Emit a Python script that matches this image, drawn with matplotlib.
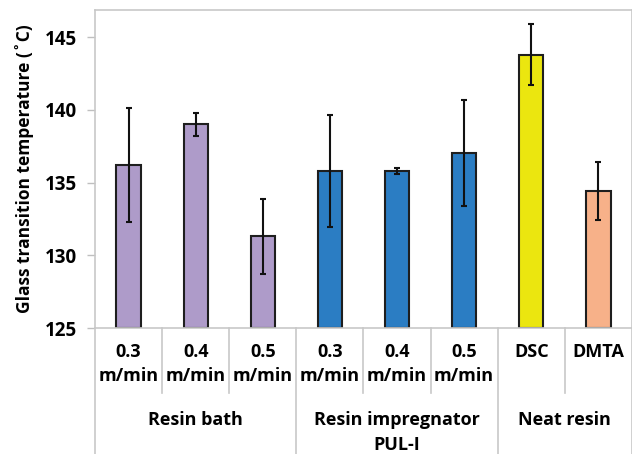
import matplotlib
matplotlib.use("Agg")
import matplotlib.pyplot as plt
import matplotlib.transforms as mtransforms

categories = ["0.3\nm/min", "0.4\nm/min", "0.5\nm/min",
              "0.3\nm/min", "0.4\nm/min", "0.5\nm/min",
              "DSC", "DMTA"]
values = [136.2, 139.0, 131.3, 135.8, 135.8, 137.05, 143.8, 134.4]
errors = [3.9, 0.8, 2.6, 3.85, 0.2, 3.65, 2.1, 2.0]
colors = ["#ae9bc9", "#ae9bc9", "#ae9bc9",
          "#2b7dc3", "#2b7dc3", "#2b7dc3",
          "#ebe60f", "#f7b189"]
groups = ["Resin bath", "Resin impregnator\nPUL-I", "Neat resin"]
group_spans = [(0, 2), (3, 5), (6, 7)]
yticks = [125, 130, 135, 140, 145]

plt.rcParams['font.family'] = ['Open Sans', 'DejaVu Sans']
plt.rcParams['font.weight'] = 'bold'

fig = plt.figure(figsize=(6.32, 4.54), dpi=100)
ax = fig.add_axes([0.1503, 0.2775, 0.8497, 0.7005])

x = list(range(len(categories)))
bottom = 125
ax.bar(x, [v - bottom for v in values], bottom=bottom, width=0.36,
       color=colors, edgecolor="#1e1e1e", linewidth=1.5, zorder=2)
ax.errorbar(x, values, yerr=errors, fmt="none", ecolor="#111111",
            elinewidth=1.5, capsize=2.5, capthick=1.5, zorder=3)

ax.set_xlim(-0.5, len(categories) - 0.5)
ax.set_ylim(125, 146.86)
ax.set_yticks(yticks)
ax.set_yticklabels([str(t) for t in yticks], fontsize=13.5, fontweight='bold')
ax.tick_params(axis='y', length=6, width=1, color="#bfbfbf", pad=7)
ax.set_xticks(x)
ax.set_xticklabels(categories, fontsize=13, fontweight='bold', linespacing=1.4)
ax.tick_params(axis='x', length=0, pad=11)

for s in ax.spines.values():
    s.set_color("#c8c8c8")
    s.set_linewidth(1.2)

ax.set_ylabel("Glass transition temperature (˚C)", fontsize=12.5,
              fontweight='bold', labelpad=8)

trans = mtransforms.blended_transform_factory(ax.transData, ax.transAxes)
group_edges = {-0.5, 2.5, 5.5, 7.5}
for b in [i - 0.5 for i in range(len(categories) + 1)]:
    ylow = -0.40 if b in group_edges else -0.204
    ax.plot([b, b], [0, ylow], transform=trans, color="#c8c8c8",
            linewidth=1.2, clip_on=False)

for name, (a, b) in zip(groups, group_spans):
    ax.text((a + b) / 2, -0.26, name, transform=trans, ha='center', va='top',
            fontsize=13, fontweight='bold', linespacing=1.55)

fig.savefig("out.png", dpi=100)
